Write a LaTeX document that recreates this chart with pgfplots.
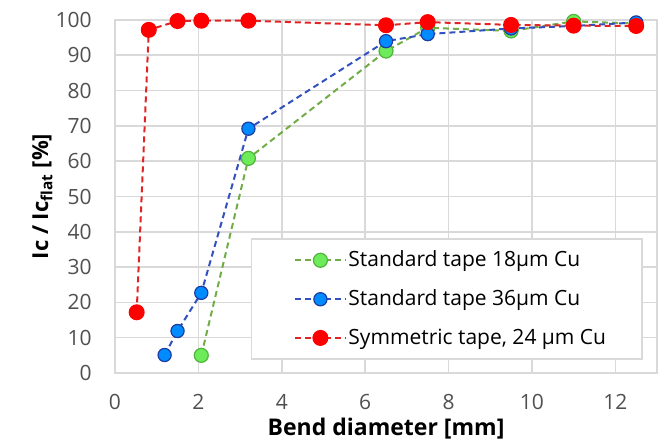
\documentclass[border=0pt]{standalone}
\usepackage{pgfplots}
\pgfplotsset{compat=1.18}
\usepackage{fontspec}
\setmainfont{Open Sans}

\definecolor{gridgrey}{RGB}{217,217,217}
\definecolor{tickgrey}{RGB}{80,80,80}
\definecolor{greenline}{RGB}{112,173,71}
\definecolor{greenfill}{RGB}{110,235,90}
\definecolor{greenedge}{RGB}{80,180,60}
\definecolor{blueline}{RGB}{50,80,190}
\definecolor{bluefill}{RGB}{0,140,255}
\definecolor{blueedge}{RGB}{30,60,160}
\definecolor{redline}{RGB}{225,35,35}
\definecolor{redfill}{RGB}{255,0,0}

\begin{document}
\begin{tikzpicture}
\begin{axis}[
    scale only axis,
    width=271pt, height=176.5pt,
    xmin=0, xmax=13, ymin=0, ymax=100,
    xtick={0,2,...,12}, ytick={0,10,...,100},
    grid=major,
    grid style={gridgrey, line width=0.8pt},
    axis line style={gridgrey, line width=0.8pt},
    major tick length=0pt,
    tick label style={font=\fontsize{10.5}{12}\selectfont, text=tickgrey},
    /pgf/number format/assume math mode=true,
    xticklabel style={anchor=north, inner sep=0pt, yshift=-10.5pt},
    yticklabel style={anchor=east, inner sep=0pt, xshift=-11.5pt},
    xlabel={\bfseries Bend diameter [mm]},
    ylabel={\bfseries Ic / Ic\textsubscript{flat} [\%]},
    label style={font=\fontsize{11}{13}\selectfont},
    xlabel style={at={(axis description cs:0.5,0)}, anchor=north,
        inner sep=0pt, yshift=-22.5pt, font=\fontsize{11.5}{13}\selectfont},
    ylabel style={at={(axis description cs:0,0.5)}, anchor=south,
        inner sep=0pt, yshift=31pt},
    legend style={at={(0.974,0.037)}, anchor=south east, draw=gridgrey,
        line width=0.8pt, font=\fontsize{10.5}{12}\selectfont,
        row sep=6pt, inner xsep=17pt, inner ysep=4pt,
        nodes={inner xsep=1pt},
        cells={anchor=west}},
    legend image code/.code={
        \path (-4.5pt,0pt);
        \draw[mark repeat=2, mark phase=2]
        plot coordinates {(0cm,0cm) (0.44cm,0cm) (0.88cm,0cm)};
    },
    every axis plot/.append style={line width=1pt, dash pattern=on 3pt off 2pt},
]

% Standard tape 18 um Cu
\addplot[greenline, mark=*, mark size=3.5pt,
    mark options={solid, fill=greenfill, draw=greenedge, line width=0.6pt}]
coordinates {
    (2.07, 5) (3.2, 60.8) (6.5, 91.2) (7.5, 97.8) (9.5, 96.9)
    (11.0, 99.6) (12.5, 99.0)
};
\addlegendentry{Standard tape 18µm Cu}

% Standard tape 36 um Cu
\addplot[blueline, mark=*, mark size=3.3pt,
    mark options={solid, fill=bluefill, draw=blueedge, line width=0.6pt}]
coordinates {
    (1.19, 5.1) (1.5, 11.9) (2.07, 22.7) (3.2, 69.2) (6.5, 94.0)
    (7.5, 96.0) (9.5, 97.6) (11.0, 98.3) (12.5, 99.3)
};
\addlegendentry{Standard tape 36µm Cu}

% Symmetric tape 24 um Cu
\addplot[redline, mark=*, mark size=3.7pt,
    mark options={solid, fill=redfill, draw=redfill, line width=0.6pt}]
coordinates {
    (0.52, 17.2) (0.81, 97.2) (1.5, 99.7) (2.07, 99.8) (3.2, 99.8)
    (6.5, 98.5) (7.5, 99.4) (9.5, 98.6) (11.0, 98.4) (12.5, 98.3)
};
\addlegendentry{Symmetric tape, 24 µm Cu}

\end{axis}
% page margins as in the reference
\path ([xshift=-57.5pt]current axis.south west);
\path ([xshift=7.5pt, yshift=10pt]current axis.north east);
\path ([yshift=-34.5pt]current axis.south west);
\end{tikzpicture}
\end{document}
